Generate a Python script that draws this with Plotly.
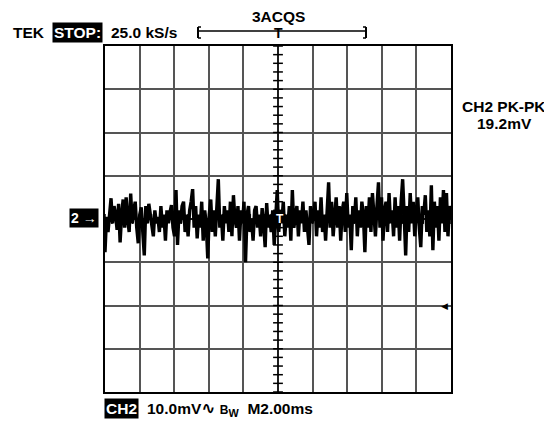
import numpy as np
import plotly.graph_objects as go

ch2_mv = [
    -7.7, 0.5, -3, 2, 4.8, -1, 3, 1, -2.5, 3.5,
    -5.4, 1, 4.5, -2, 5, 0, -3, 5.9, -1, 2,
    4, -2, -5.6, 1, 2.7, -3, -8.4, 3, -1, 3.5,
    1, -2, -4, 2, -1, 0.5, -3, 3, -2, 1,
    -5, 2, -1, 1.5, 3.2, -2, -4, 6.7, -6, 2,
    -1, 3, 4, -3, 1, -4, 2, 4, 6.9, -2,
    3, -4.5, 1, -2, 4, -5, 2, -1, -9.1, 1,
    4.5, -3, 2, -4, 3, 9.2, -2, 1, -5, 3,
    -1, 2, -3, 4, -4, 5.5, 0, -2, 3, -5,
    2, -1, 4, -10, 1, 3, -3, 0, -5, 2,
    3, -2, 1, -4, 2.5, -1, -6.5, 3.7, -2, 1,
    -3, 2, -6, 0, 6.7, -3, 2, -1, 4, -4,
    1, -2, 3, -5, 6.7, -2, 1, 3, -4, 2,
    -1, 4, -3, 2, -2, -6, 3, -1, 1, 4,
    -4, 2, -2, 5, -3, 1, -5, 3, 8.5, -2,
    4, -4, 1, 5, -2, 3, -5, 2, 4, -3,
    6, -2, 1, -7.2, 3, -1, 5, -4, 2, -2,
    4, 1, -7.7, 3, -2, 5, -3, 6, 1, -4,
    3, 8.5, -2, 5, -5, 2, 4, -3, 6, -1,
    2, -4, 5, -2, 3, -5, 4, 9.2, 1, -8.4,
    3, -3, 6, -1, 4, -4, 2, 5, -2, -6.5,
    3, 1, 5.5, -3, 2, -4, 7.8, -7.2, 4, -2,
    3, -5, 5, -1, 6.7, -3, 6, -4, 3, 0,
]
n_div_x = 10
n_div_y = 8
volts_per_div = 10.0
trig_level_mv = -20.0

# page is rendered with an 8px body margin
OFF = 8
PAGE_W, PAGE_H = 552, 425
PLOT_X0, PLOT_Y0, PLOT_SIZE = 105, 46, 346
W, H = PAGE_W - OFF, PAGE_H - OFF
L, T = PLOT_X0 - OFF, PLOT_Y0 - OFF
R = W - L - PLOT_SIZE
B = H - T - PLOT_SIZE

def px(x):
    return (x - PLOT_X0) / PLOT_SIZE

def py(y):
    return (PLOT_Y0 + PLOT_SIZE - y) / PLOT_SIZE

FONT = "Liberation Sans, Arial, DejaVu Sans, sans-serif"
FS = 15.5

x_time = np.linspace(0, n_div_x, len(ch2_mv))

fig = go.Figure()
fig.add_trace(go.Scatter(x=x_time, y=ch2_mv, mode="lines",
                         line=dict(color="black", width=3.4), hoverinfo="skip"))

# center graticule minor ticks
ymax = n_div_y / 2 * volts_per_div
vt = np.arange(-ymax, ymax + 0.01, volts_per_div / 5)
ht = np.arange(0, n_div_x + 0.001, 0.2)
fig.add_trace(go.Scatter(x=[n_div_x / 2] * len(vt), y=vt, mode="markers",
                         marker=dict(symbol="line-ew", size=7,
                                     line=dict(color="black", width=1.5)),
                         hoverinfo="skip"))
fig.add_trace(go.Scatter(x=ht, y=[0] * len(ht), mode="markers",
                         marker=dict(symbol="line-ns", size=7,
                                     line=dict(color="black", width=1.5)),
                         hoverinfo="skip"))

axis_common = dict(showline=True, mirror=True, linecolor="black", linewidth=2,
                   showgrid=True, gridcolor="#555555", gridwidth=1.5,
                   zeroline=False, showticklabels=False, ticks="", fixedrange=True)
fig.update_xaxes(range=[0, n_div_x], dtick=1, **axis_common)
fig.update_yaxes(range=[-ymax, ymax], dtick=volts_per_div, **axis_common)

# center lines in black
fig.add_shape(type="line", xref="x", yref="paper", x0=n_div_x / 2, x1=n_div_x / 2,
              y0=0, y1=1, line=dict(color="black", width=1.3))
fig.add_shape(type="line", xref="paper", yref="y", x0=0, x1=1, y0=0, y1=0,
              line=dict(color="black", width=1.3))

def ann(text, x, y, size=FS, color="black", bg=None, xanchor="center", **kw):
    fig.add_annotation(text=text, x=px(x), y=py(y), xref="paper", yref="paper",
                       showarrow=False, xanchor=xanchor, yanchor="middle",
                       font=dict(family=FONT, size=size, color=color),
                       bgcolor=bg, borderpad=1, **kw)

ann("<b>TEK</b>", 29, 32)
ann("<b>STOP:</b>", 77, 32, color="white", bg="black")
ann("<b>25.0 kS/s</b>", 109, 32, xanchor="left")
ann("<b>3ACQS</b>", 278, 16)

# record-length bracket
fig.add_shape(type="line", xref="paper", yref="paper", x0=px(198), x1=px(366),
              y0=py(31), y1=py(31), line=dict(color="black", width=1.3))
for bx, foot in ((198, 201), (366, 363)):
    fig.add_shape(type="line", xref="paper", yref="paper", x0=px(bx), x1=px(bx),
                  y0=py(27), y1=py(38), line=dict(color="black", width=2))
    fig.add_shape(type="line", xref="paper", yref="paper", x0=px(bx), x1=px(foot),
                  y0=py(27), y1=py(27), line=dict(color="black", width=1.5))
    fig.add_shape(type="line", xref="paper", yref="paper", x0=px(bx), x1=px(foot),
                  y0=py(38), y1=py(38), line=dict(color="black", width=1.5))
ann("<b>T</b>", 278, 33, size=14)

# trigger point marker on the trace
ann("<b>T</b>", 280, 219, size=12, color="white")

ann("<b>CH2 PK-PK</b>", 504, 106)
ann("<b>19.2mV</b>", 504, 123)

ann("<b>2 →</b>", 84, 218, color="white", bg="black", size=14)

fig.add_annotation(text="◀", x=1, y=trig_level_mv, xref="paper", yref="y",
                   showarrow=False, xanchor="right", yanchor="middle", xshift=-1,
                   font=dict(family="DejaVu Sans", size=9, color="black"))

ann("<b>CH2</b>", 104, 408, color="white", bg="black", xanchor="left")
ann("<b>10.0mV</b><span style='font-family:DejaVu Sans;font-size:17px'><b>∿</b></span>"
    "<b> <span style='font-size:12px'>B</span><sub>W</sub>  M2.00ms</b>", 145, 408,
    xanchor="left")

fig.update_layout(width=W, height=H,
                  margin=dict(l=L, r=R, t=T, b=B, pad=0),
                  paper_bgcolor="white", plot_bgcolor="white",
                  showlegend=False, font=dict(family=FONT))

fig.write_html("out.html", config={"displayModeBar": False})
